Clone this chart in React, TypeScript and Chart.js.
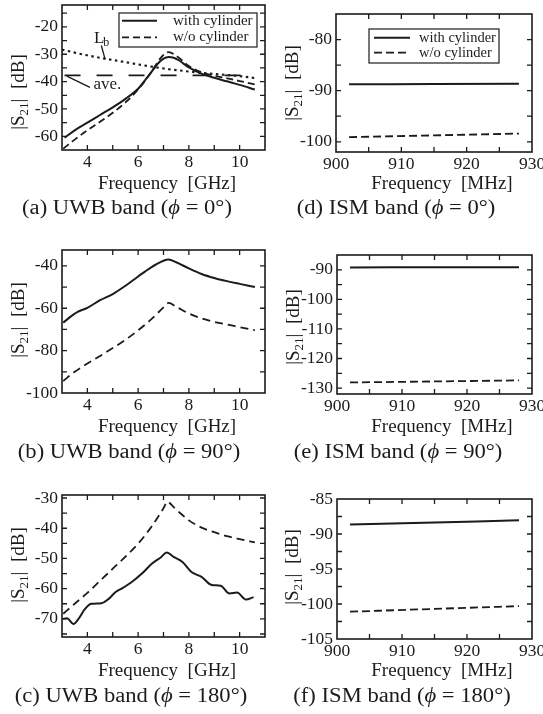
import React, { useEffect, useRef } from 'react';
import { Chart, registerables } from 'chart.js';

Chart.register(...registerables);

const W = 543;
const H = 714;
const FONT = '"Liberation Serif", "Times New Roman", serif';
const INK = '#1b1b1b';

// ---------- data: UWB (a) phi = 0 ----------
const aWithX = [3.1, 3.5, 4.0, 4.5, 5.0, 5.5, 6.0, 6.4, 6.8, 7.0, 7.2, 7.4, 7.6, 8.0, 8.5, 9.0, 9.5, 10.0, 10.6];
const aWithY = [-60.5, -57.8, -55.0, -52.2, -49.4, -46.3, -42.6, -38.0, -33.2, -31.6, -31.0, -31.3, -32.2, -34.8, -37.1, -38.6, -39.9, -41.2, -42.9];
const aWoX = [3.05, 3.5, 4.0, 4.5, 5.0, 5.5, 6.0, 6.5, 6.9, 7.2, 7.5, 8.0, 8.5, 9.0, 9.5, 10.0, 10.6];
const aWoY = [-64.5, -61.2, -57.8, -54.7, -51.4, -47.6, -42.9, -36.8, -31.2, -29.2, -30.6, -34.3, -36.6, -37.8, -38.8, -39.8, -41.0];
const aLbX = [3.0, 3.5, 4.0, 4.5, 5.0, 5.5, 6.0, 6.5, 7.0, 7.5, 8.0, 8.5, 9.0, 9.5, 10.0, 10.7];
const aLbY = [-28.3, -29.4, -30.4, -31.3, -32.1, -32.9, -33.7, -34.5, -35.2, -35.8, -36.3, -36.8, -37.2, -37.6, -38.0, -38.8];
const aAveX = [3.1, 10.6];
const aAveY = [-37.7, -37.7];

// ---------- data: UWB (b) phi = 90 ----------
const bWithX = [3.05, 3.3, 3.6, 4.0, 4.5, 5.0, 5.5, 6.0, 6.5, 7.0, 7.2, 7.5, 8.0, 8.5, 9.0, 9.5, 10.0, 10.6];
const bWithY = [-66.8, -64.3, -61.8, -59.8, -56.2, -53.3, -49.4, -45.0, -40.8, -37.6, -37.0, -38.3, -41.2, -43.8, -45.7, -47.2, -48.5, -50.0];
const bWoX = [3.05, 3.5, 4.0, 4.5, 5.0, 5.5, 6.0, 6.5, 7.0, 7.2, 7.5, 8.0, 8.5, 9.0, 9.5, 10.0, 10.6];
const bWoY = [-94.3, -90.0, -86.1, -82.5, -78.8, -74.9, -70.4, -65.4, -59.6, -57.5, -59.3, -62.5, -64.8, -66.4, -67.7, -68.9, -70.4];

// ---------- data: UWB (c) phi = 180 ----------
const cWithX = [3.02, 3.2, 3.45, 3.65, 3.9, 4.15, 4.55, 4.85, 5.1, 5.35, 5.75, 6.15, 6.55, 6.9, 7.13, 7.4, 7.75, 8.1, 8.5, 8.9, 9.25, 9.6, 9.9, 10.25, 10.55];
const cWithY = [-70.0, -69.8, -71.7, -70.0, -66.8, -65.0, -64.8, -63.3, -61.2, -60.0, -57.8, -55.0, -51.7, -49.6, -48.0, -49.5, -51.2, -54.5, -56.1, -58.8, -59.0, -61.6, -61.3, -63.6, -62.8];
const cWoX = [3.05, 3.5, 4.0, 4.5, 5.0, 5.5, 6.0, 6.5, 7.0, 7.15, 7.4, 7.7, 8.0, 8.5, 9.0, 9.5, 10.0, 10.6];
const cWoY = [-68.3, -65.0, -61.4, -57.4, -53.4, -49.4, -45.1, -39.8, -33.4, -31.2, -33.0, -35.3, -37.4, -39.8, -41.3, -42.6, -43.6, -44.7];

// ---------- data: ISM (d)(e)(f) ----------
const ismX = [902, 915, 928];
const dWithY = [-88.75, -88.7, -88.65];
const dWoY = [-99.1, -98.75, -98.4];
const eWithY = [-89.2, -89.15, -89.1];
const eWoY = [-128.1, -127.75, -127.4];
const fWithY = [-88.65, -88.35, -88.05];
const fWoY = [-101.1, -100.7, -100.3];

// ---------- ticks ----------
const uwbXLabels = [4, 6, 8, 10];
const uwbXTicks = [4, 5, 6, 7, 8, 9, 10];
const ismXLabels = [900, 910, 920, 930];
const ismXTicks = [905, 910, 915, 920, 925];
const aYLabels = [-60, -50, -40, -30, -20];
const aYTicks = [-60, -55, -50, -45, -40, -35, -30, -25, -20, -15];
const bYLabels = [-100, -80, -60, -40];
const bYTicks = [-90, -80, -70, -60, -50, -40];
const cYLabels = [-70, -60, -50, -40, -30];
const cYTicks = [-75, -70, -65, -60, -55, -50, -45, -40, -35, -30];
const dYLabels = [-100, -90, -80];
const dYTicks = [-100, -95, -90, -85, -80];
const eYLabels = [-130, -120, -110, -100, -90];
const eYTicks = [-130, -125, -120, -115, -110, -105, -100, -95, -90];
const fYLabels = [-105, -100, -95, -90, -85];
const fYTicks = [-102.5, -100, -97.5, -95, -92.5, -90, -87.5];

const LABEL_WITH = 'with cylinder';
const LABEL_WO = 'w/o cylinder';

type Series = { x: number[]; y: number[]; dash: number[]; width: number; label?: string };
type Legend = { l: number; t: number; w: number; h: number; rows: number[]; s0: number; s1: number; tx: number; size: number };
type Panel = {
  area: { l: number; t: number; r: number; b: number };
  xMin: number; xMax: number; yMin: number; yMax: number;
  xLabels: number[]; xTicks: number[]; yLabels: number[]; yTicks: number[];
  series: Series[];
  xTitle: string; xTitlePos: [number, number];
  yTitlePos: [number, number];
  caption: [string, string, string]; captionPos: [number, number];
  legend?: Legend;
  annotate?: boolean;
};

const panels: Panel[] = [
  {
    area: { l: 62, t: 5, r: 265, b: 150 },
    xMin: 3, xMax: 11, yMin: -65, yMax: -12,
    xLabels: uwbXLabels, xTicks: uwbXTicks, yLabels: aYLabels, yTicks: aYTicks,
    series: [
      { x: aLbX, y: aLbY, dash: [2.5, 3.5], width: 2.1 },
      { x: aAveX, y: aAveY, dash: [16, 16], width: 1.8 },
      { x: aWoX, y: aWoY, dash: [7, 4], width: 1.8, label: LABEL_WO },
      { x: aWithX, y: aWithY, dash: [], width: 2, label: LABEL_WITH },
    ],
    xTitle: 'Frequency  [GHz]', xTitlePos: [167, 184], yTitlePos: [17, 92],
    caption: ['(a) UWB band (', 'ϕ', ' = 0°)'], captionPos: [127, 207],
    legend: { l: 119, t: 13, w: 138, h: 34, rows: [20.7, 37.3], s0: 122, s1: 157, tx: 173, size: 15 },
    annotate: true,
  },
  {
    area: { l: 62, t: 250, r: 265, b: 393 },
    xMin: 3, xMax: 11, yMin: -100, yMax: -32.5,
    xLabels: uwbXLabels, xTicks: uwbXTicks, yLabels: bYLabels, yTicks: bYTicks,
    series: [
      { x: bWoX, y: bWoY, dash: [8, 5], width: 1.8, label: LABEL_WO },
      { x: bWithX, y: bWithY, dash: [], width: 2, label: LABEL_WITH },
    ],
    xTitle: 'Frequency  [GHz]', xTitlePos: [167, 427], yTitlePos: [17, 320],
    caption: ['(b) UWB band (', 'ϕ', ' = 90°)'], captionPos: [129, 451],
  },
  {
    area: { l: 62, t: 495, r: 265, b: 637 },
    xMin: 3, xMax: 11, yMin: -76, yMax: -29,
    xLabels: uwbXLabels, xTicks: uwbXTicks, yLabels: cYLabels, yTicks: cYTicks,
    series: [
      { x: cWoX, y: cWoY, dash: [8, 5], width: 1.8, label: LABEL_WO },
      { x: cWithX, y: cWithY, dash: [], width: 2, label: LABEL_WITH },
    ],
    xTitle: 'Frequency  [GHz]', xTitlePos: [167, 671], yTitlePos: [17, 565],
    caption: ['(c) UWB band (', 'ϕ', ' = 180°)'], captionPos: [131, 695],
  },
  {
    area: { l: 336, t: 14, r: 532, b: 152 },
    xMin: 900, xMax: 930, yMin: -102, yMax: -75,
    xLabels: ismXLabels, xTicks: ismXTicks, yLabels: dYLabels, yTicks: dYTicks,
    series: [
      { x: ismX, y: dWoY, dash: [8, 4], width: 1.8, label: LABEL_WO },
      { x: ismX, y: dWithY, dash: [], width: 2, label: LABEL_WITH },
    ],
    xTitle: 'Frequency  [MHz]', xTitlePos: [442, 184], yTitlePos: [291, 83],
    caption: ['(d) ISM band (', 'ϕ', ' = 0°)'], captionPos: [396, 207],
    legend: { l: 369, t: 29, w: 130, h: 34, rows: [37.7, 52.7], s0: 374, s1: 410, tx: 419, size: 14.5 },
  },
  {
    area: { l: 337, t: 255, r: 532, b: 394 },
    xMin: 900, xMax: 930, yMin: -132, yMax: -85,
    xLabels: ismXLabels, xTicks: ismXTicks, yLabels: eYLabels, yTicks: eYTicks,
    series: [
      { x: ismX, y: eWoY, dash: [8, 4], width: 1.8, label: LABEL_WO },
      { x: ismX, y: eWithY, dash: [], width: 2, label: LABEL_WITH },
    ],
    xTitle: 'Frequency  [MHz]', xTitlePos: [442, 427], yTitlePos: [292, 327],
    caption: ['(e) ISM band (', 'ϕ', ' = 90°)'], captionPos: [398, 451],
  },
  {
    area: { l: 337, t: 499, r: 532, b: 639 },
    xMin: 900, xMax: 930, yMin: -105, yMax: -85,
    xLabels: ismXLabels, xTicks: ismXTicks, yLabels: fYLabels, yTicks: fYTicks,
    series: [
      { x: ismX, y: fWoY, dash: [8, 4], width: 1.8, label: LABEL_WO },
      { x: ismX, y: fWithY, dash: [], width: 2, label: LABEL_WITH },
    ],
    xTitle: 'Frequency  [MHz]', xTitlePos: [442, 671], yTitlePos: [291, 567],
    caption: ['(f) ISM band (', 'ϕ', ' = 180°)'], captionPos: [402, 695],
  },
];

const TICK_LEN = 5;
const CAPTION_SX = 1.13;

function drawYTitle(ctx: CanvasRenderingContext2D, cx: number, cy: number) {
  ctx.save();
  ctx.translate(cx, cy);
  ctx.rotate(-Math.PI / 2);
  const big = `19px ${FONT}`;
  const small = `13px ${FONT}`;
  const parts: [string, string, number][] = [['|S', big, 0], ['21', small, 4], ['|  [dB]', big, 0]];
  let total = 0;
  const widths = parts.map(([t, f]) => { ctx.font = f; const w = ctx.measureText(t).width; total += w; return w; });
  let x = -total / 2;
  ctx.fillStyle = INK;
  ctx.textBaseline = 'alphabetic';
  ctx.textAlign = 'left';
  parts.forEach(([t, f, dy], i) => { ctx.font = f; ctx.fillText(t, x, 6.5 + dy); x += widths[i]; });
  ctx.restore();
}

function drawCaption(ctx: CanvasRenderingContext2D, cx: number, cy: number, segs: [string, string, string]) {
  ctx.save();
  ctx.translate(cx, cy);
  ctx.scale(CAPTION_SX, 1);
  const fonts = [`20px ${FONT}`, `italic 20px ${FONT}`, `20px ${FONT}`];
  let total = 0;
  const widths = segs.map((t, i) => { ctx.font = fonts[i]; const w = ctx.measureText(t).width; total += w; return w; });
  let x = -total / 2;
  ctx.fillStyle = INK;
  ctx.textBaseline = 'alphabetic';
  ctx.textAlign = 'left';
  segs.forEach((t, i) => { ctx.font = fonts[i]; ctx.fillText(t, x, 6.5); x += widths[i]; });
  ctx.restore();
}

function makeDecor(p: Panel) {
  return {
    id: 'decor',
    afterDatasetsDraw(chart: any) {
      const ctx: CanvasRenderingContext2D = chart.ctx;
      const { left, right, top, bottom } = chart.chartArea;
      const xs = chart.scales.x;
      const ys = chart.scales.y;
      ctx.save();
      ctx.strokeStyle = INK;
      // inward ticks
      ctx.lineWidth = 1.3;
      ctx.beginPath();
      p.xTicks.forEach((v) => {
        const px = xs.getPixelForValue(v);
        ctx.moveTo(px, bottom); ctx.lineTo(px, bottom - TICK_LEN);
        ctx.moveTo(px, top); ctx.lineTo(px, top + TICK_LEN);
      });
      p.yTicks.forEach((v) => {
        const py = ys.getPixelForValue(v);
        ctx.moveTo(left, py); ctx.lineTo(left + TICK_LEN, py);
        ctx.moveTo(right, py); ctx.lineTo(right - TICK_LEN, py);
      });
      ctx.stroke();
      // frame
      ctx.lineWidth = 1.6;
      ctx.strokeRect(left, top, right - left, bottom - top);

      // annotations (panel a)
      if (p.annotate) {
        ctx.lineWidth = 1.3;
        ctx.beginPath();
        ctx.moveTo(xs.getPixelForValue(4.55), ys.getPixelForValue(-26.8));
        ctx.lineTo(xs.getPixelForValue(4.7), ys.getPixelForValue(-31.9));
        ctx.moveTo(xs.getPixelForValue(3.19), ys.getPixelForValue(-38.0));
        ctx.lineTo(xs.getPixelForValue(4.1), ys.getPixelForValue(-42.1));
        ctx.stroke();
        ctx.fillStyle = INK;
        ctx.textAlign = 'left';
        ctx.textBaseline = 'alphabetic';
        const lx = xs.getPixelForValue(4.26);
        const ly = ys.getPixelForValue(-23.8) + 6;
        ctx.font = `17px ${FONT}`;
        ctx.fillText('L', lx, ly);
        const lw = ctx.measureText('L').width;
        ctx.font = `12px ${FONT}`;
        ctx.fillText('b', lx + lw - 1, ly + 3);
        ctx.font = `17px ${FONT}`;
        ctx.fillText('ave.', xs.getPixelForValue(4.24), ys.getPixelForValue(-41.4) + 4);
      }

      // legend
      if (p.legend) {
        const lg = p.legend;
        ctx.fillStyle = '#ffffff';
        ctx.fillRect(lg.l, lg.t, lg.w, lg.h);
        ctx.lineWidth = 1.2;
        ctx.strokeRect(lg.l, lg.t, lg.w, lg.h);
        const items = chart.data.datasets.filter((d: any) => d.label);
        const ordered = [LABEL_WITH, LABEL_WO].map((n) => items.find((d: any) => d.label === n));
        ordered.forEach((d: any, i: number) => {
          if (!d) return;
          const y = lg.rows[i];
          ctx.save();
          ctx.lineWidth = d.borderWidth;
          ctx.setLineDash(d.borderDash || []);
          ctx.beginPath();
          ctx.moveTo(lg.s0, y); ctx.lineTo(lg.s1, y);
          ctx.stroke();
          ctx.restore();
          ctx.fillStyle = INK;
          ctx.font = `${lg.size}px ${FONT}`;
          ctx.textAlign = 'left';
          ctx.textBaseline = 'middle';
          ctx.fillText(d.label, lg.tx, y);
        });
      }

      // titles
      ctx.fillStyle = INK;
      ctx.font = `19px ${FONT}`;
      ctx.textAlign = 'center';
      ctx.textBaseline = 'middle';
      ctx.fillText(p.xTitle, p.xTitlePos[0], p.xTitlePos[1]);
      drawYTitle(ctx, p.yTitlePos[0], p.yTitlePos[1]);
      drawCaption(ctx, p.captionPos[0], p.captionPos[1], p.caption);
      ctx.restore();
    },
  };
}

function PanelChart({ p }: { p: Panel }) {
  const ref = useRef<HTMLCanvasElement>(null);
  useEffect(() => {
    const yAxisW = 60;
    const xAxisH = 30;
    const chart = new Chart(ref.current as HTMLCanvasElement, {
      type: 'line',
      data: {
        datasets: p.series.map((s) => ({
          label: s.label ?? '',
          data: s.x.map((x, i) => ({ x, y: s.y[i] })),
          borderColor: INK,
          borderWidth: s.width,
          borderDash: s.dash,
          pointRadius: 0,
          fill: false,
          cubicInterpolationMode: 'monotone' as const,
          borderCapStyle: 'butt' as const,
          borderJoinStyle: 'round' as const,
        })),
      },
      options: {
        responsive: false,
        animation: false,
        events: [],
        layout: {
          padding: { left: p.area.l - yAxisW, top: p.area.t, right: W - p.area.r, bottom: H - p.area.b - xAxisH },
        },
        plugins: { legend: { display: false }, tooltip: { enabled: false }, title: { display: false } },
        scales: {
          x: {
            type: 'linear', min: p.xMin, max: p.xMax,
            grid: { display: false, drawTicks: false }, border: { display: false },
            ticks: { font: { family: FONT, size: 17.5 }, color: INK, padding: 2, maxRotation: 0, autoSkip: false, callback: (v: any) => String(v) },
            afterBuildTicks: (s: any) => { s.ticks = p.xLabels.map((v) => ({ value: v })); },
            afterFit: (s: any) => { s.height = xAxisH; s.paddingLeft = 0; s.paddingRight = 0; },
          },
          y: {
            type: 'linear', min: p.yMin, max: p.yMax,
            grid: { display: false, drawTicks: false }, border: { display: false },
            ticks: { font: { family: FONT, size: 17.5 }, color: INK, padding: 4, autoSkip: false, callback: (v: any) => String(v) },
            afterBuildTicks: (s: any) => { s.ticks = p.yLabels.map((v) => ({ value: v })); },
            afterFit: (s: any) => { s.width = yAxisW; s.paddingTop = 0; s.paddingBottom = 0; },
          },
        },
      } as any,
      plugins: [makeDecor(p)],
    });
    return () => chart.destroy();
  }, []);
  return <canvas ref={ref} width={W} height={H} style={{ position: 'absolute', left: 0, top: 0 }} />;
}

export default function App() {
  return (
    <div style={{ position: 'absolute', left: 0, top: 0, width: W, height: H, background: '#fff', overflow: 'hidden' }}>
      {panels.map((p, i) => (
        <PanelChart key={i} p={p} />
      ))}
    </div>
  );
}
